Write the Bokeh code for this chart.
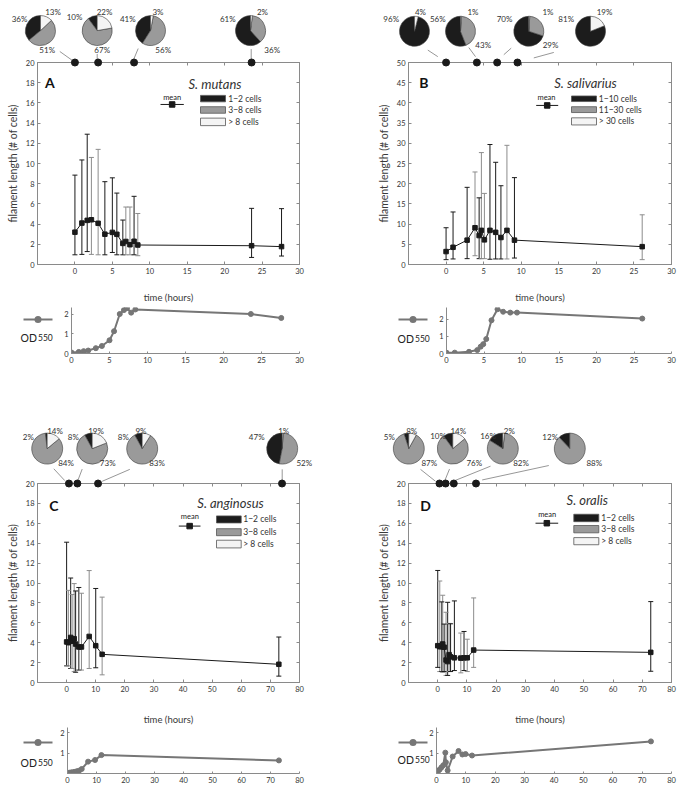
import numpy as np
from bokeh.plotting import figure
from bokeh.models import LinearAxis, FixedTicker, Range1d
from bokeh.core.properties import value
from bokeh.layouts import column, row
from bokeh.embed import file_html
from bokeh.resources import INLINE

FONT = "Lato"
INK = "#333333"
AX = "#8a8a8a"
DARK = "#1a1a1a"
GRAY = "#8c8c8c"
PIE_COLORS = ["#1c1c1c", "#9a9a9a", "#f4f4f4"]
OD_COLOR = "#767676"

# ---------------- data ----------------
# Panel A  (S. mutans)
a_t = [0, 0.93, 1.64, 2.2, 3.1, 4.0, 5.0, 5.6, 6.4, 6.8, 7.35, 7.9, 8.4, 23.6, 27.6]
a_mean = [3.2, 4.1, 4.37, 4.43, 4.08, 3.0, 3.18, 2.99, 2.09, 2.28, 1.96, 2.3, 1.93, 1.86, 1.77]
a_hi = [8.85, 10.35, 12.9, 10.6, 11.4, 8.2, 8.58, 7.07, 4.4, 5.69, 5.69, 6.75, 5.05, 5.56, 5.53]
a_lo = [0.96, 1.0, 1.28, 1.0, 0.96, 0.96, 1.19, 0.96, 0.96, 0.96, 0.96, 0.96, 0.87, 0.7, 0.84]
a_shade = "kkkggkkkkggkgkk"
a_od_t = [0, 0.96, 1.6, 2.2, 3.2, 4.0, 5.0, 5.6, 6.35, 6.9, 7.3, 7.85, 8.4, 23.6, 27.6]
a_od = [0.05, 0.08, 0.12, 0.15, 0.27, 0.38, 0.67, 1.13, 2.0, 2.2, 2.3, 2.07, 2.23, 2.0, 1.8]
a_pie_t = [0, 3.1, 7.9, 23.6]
a_pie = [(36, 51, 13), (10, 67, 22), (41, 56, 3), (61, 36, 2)]

# Panel B  (S. salivarius)
b_t = [0, 0.93, 2.8, 3.85, 4.4, 4.7, 5.1, 5.84, 6.6, 7.3, 8.1, 9.1, 26.1]
b_mean = [3.2, 4.26, 6.03, 9.1, 7.16, 8.45, 6.1, 8.45, 7.96, 6.68, 8.45, 6.03, 4.42]
b_hi = [9.1, 13.0, 19.1, 22.9, 16.5, 27.7, 17.6, 29.7, 25.3, 19.5, 29.5, 21.5, 12.3]
b_lo = [1.2, 1.37, 1.45, 2.17, 1.45, 1.45, 1.45, 1.3, 1.37, 1.37, 1.37, 1.6, 1.2]
b_shade = "kkkgkggkkkgkg"
b_od_t = [0, 1.1, 3.0, 4.1, 4.55, 4.9, 5.3, 6.0, 6.8, 7.55, 8.5, 9.4, 26.1]
b_od = [0.05, 0.05, 0.1, 0.2, 0.4, 0.55, 0.85, 1.95, 2.6, 2.45, 2.4, 2.4, 2.05]
b_pie_t = [0, 4.1, 6.8, 9.5]
b_pie = [(96, 0, 4), (56, 43, 1), (70, 29, 1), (81, 0, 19)]

# Panel C  (S. anginosus)
c_t = [0, 0.6, 1.4, 1.9, 2.6, 3.1, 4.2, 5.1, 7.75, 10.0, 12.2, 72.9]
c_mean = [4.08, 4.0, 4.53, 4.15, 4.4, 3.86, 3.57, 3.57, 4.63, 3.7, 2.83, 1.83]
c_hi = [14.1, 9.26, 10.5, 8.84, 9.94, 9.2, 9.55, 8.97, 11.25, 9.45, 8.58, 4.57]
c_lo = [1.67, 1.67, 1.41, 1.41, 1.09, 1.03, 1.25, 1.25, 1.41, 1.48, 0.77, 0.64]
c_shade = "kgkggkkggkgk"
c_od_t = [0, 0.6, 1.4, 2.3, 3.2, 4.0, 4.9, 7.1, 9.5, 11.7, 72.9]
c_od = [0.02, 0.04, 0.06, 0.08, 0.11, 0.14, 0.22, 0.58, 0.66, 0.9, 0.64]
c_pie_t = [0.8, 3.7, 10.8, 74]
c_pie = [(2, 84, 14), (8, 73, 19), (8, 83, 9), (47, 52, 1)]

# Panel D  (S. oralis)
d_t = [0, 0.7, 1.4, 1.7, 2.2, 2.85, 3.4, 3.9, 4.4, 5.7, 7.9, 9.0, 10.1, 12.3, 72.9]
d_mean = [3.7, 3.6, 3.6, 3.87, 3.55, 2.26, 2.1, 2.8, 2.58, 2.48, 2.45, 2.48, 2.48, 3.26, 3.03]
d_hi = [11.26, 10.2, 8.1, 8.77, 5.87, 7.06, 8.06, 5.94, 5.9, 8.2, 4.97, 5.13, 4.35, 8.5, 8.13]
d_lo = [1.52, 1.1, 1.1, 1.03, 1.1, 0.71, 0.71, 1.1, 1.1, 1.2, 0.97, 1.2, 1.1, 1.52, 1.13]
d_shade = "kgkgkgkgkkgkggk"
d_od_t = [0, 0.6, 1.1, 1.7, 2.3, 3.0, 3.2, 3.8, 5.5, 7.5, 8.8, 9.9, 12.1, 73.0]
d_od = [0.05, 0.13, 0.2, 0.3, 0.4, 1.02, 0.55, 0.15, 0.83, 1.1, 0.93, 0.95, 0.88, 1.57]
d_pie_t = [0.6, 2.7, 5.5, 13.1]
d_pie = [(5, 87, 8), (10, 76, 14), (16, 82, 2), (12, 88, 0)]

x_ticks_short = [0, 5, 10, 15, 20, 25, 30]
x_ticks_long = [0, 10, 20, 30, 40, 50, 60, 70, 80]
y_ticks_20 = [0, 2, 4, 6, 8, 10, 12, 14, 16, 18, 20]
y_ticks_50 = [0, 5, 10, 15, 20, 25, 30, 35, 40, 45, 50]
legend_small = ["1\u22122 cells", "3\u22128 cells", "> 8 cells"]
legend_big = ["1\u221210 cells", "11\u221230 cells", "> 30 cells"]

# ---------------- layout (page pixel positions of decorations) ----------------
# fig = (width, height, border_left, border_right, border_top, border_bottom)
LAY = {
    "A": dict(fig=(341, 305, 37, 42, 62, 36), frame=(37, 299, 62, 269), xr=(-5, 30), yr=(0, 20),
              xt=x_ticks_short, yt=y_ticks_20, lab_st=15, letter=(49.3, 82.7), title=(214.5, 84),
              name="S. mutans", leg_text=legend_small,
              mean_txt=(171.7, 97.7), mean_line=(160, 183.3, 105), box_x=(200, 225),
              box_y=[(95.7, 102.3), (107.3, 114), (119, 126.7)], leg_tx=227.7,
              pie_c=[(40, 29.3), (96.7, 29.3), (150, 29.3), (250, 29.3)], pie_r=15,
              pie_lab=[[(19, 17), (46.7, 49.5), (52.5, 10.5)], [(74, 15.7), (101.7, 49.5), (104, 10.5)],
                       [(127.3, 17), (162.7, 49.5), (157.5, 10.5)], [(227.3, 17), (271.7, 49.5), (262, 10.5)]],
              conn=[(59.3, 50.7, 72.7, 60.5), (96.7, 53.3, 96.7, 60.5), (137.7, 47.7, 132.7, 60.0), (250.7, 48.3, 250.7, 60.5)]),
    "B": dict(fig=(342, 305, 67, 12, 62, 36), frame=(408, 671, 62, 269), xr=(-5, 30), yr=(0, 50),
              xt=x_ticks_short, yt=y_ticks_50, lab_st=15, letter=(423.3, 82.7), title=(585, 83.3),
              name="S. salivarius", leg_text=legend_big,
              mean_txt=(546, 98.3), mean_line=(535.7, 557.7, 106), box_x=(571, 596),
              box_y=[(96.3, 102), (107.3, 113.3), (118.7, 126)], leg_tx=598.3,
              pie_c=[(414, 30), (460, 30), (528.3, 30), (590, 30)], pie_r=15,
              pie_lab=[[(390.7, 17), None, (420, 10.5)], [(437.3, 17), (482.7, 44.5), (472.5, 10.5)],
                       [(504, 17), (550, 44.5), (547.5, 10.5)], [(565.7, 17), None, (604, 10.5)]],
              conn=[(427.3, 49.3, 437.3, 56), (468.3, 46.7, 475, 56), (510.7, 47.3, 503.3, 54), (553.3, 51.7, 533.3, 57.3)]),
    "C": dict(fig=(341, 327, 37, 42, 83, 37), frame=(37, 299, 483, 690), xr=(-10, 80), yr=(0, 20),
              xt=x_ticks_long, yt=y_ticks_20, lab_st=19, letter=(53.3, 506), title=(230, 503.3),
              name="S. anginosus", leg_text=legend_small,
              mean_txt=(189.3, 517.3), mean_line=(178.3, 200, 527.3), box_x=(216, 240.7),
              box_y=[(516.7, 524), (530, 537.3), (542, 550)], leg_tx=242.7,
              pie_c=[(46.7, 446.7), (91.7, 446.7), (141.7, 446.7), (281.7, 446.7)], pie_r=15.5,
              pie_lab=[[(27.8, 434.5), (65.5, 462), (54.5, 428.8)], [(72.8, 434.5), (107.2, 462), (95.5, 428.8)],
                       [(122.8, 434.5), (156.5, 462), (140.5, 428.8)], [(256.2, 434.5), (303.8, 462), (283.2, 428.8)]],
              conn=[(53.3, 467.7, 64.3, 480), (81.7, 468, 77.3, 480), (129.3, 468.3, 101.7, 480.7), (281.7, 468.3, 281.7, 480)]),
    "D": dict(fig=(342, 327, 67, 12, 83, 37), frame=(408, 671, 483, 690), xr=(-10, 80), yr=(0, 20),
              xt=x_ticks_long, yt=y_ticks_20, lab_st=19, letter=(425, 506), title=(586.7, 500),
              name="S. oralis", leg_text=legend_small,
              mean_txt=(546.7, 515.3), mean_line=(535, 557.7, 524.3), box_x=(573.3, 598.3),
              box_y=[(515, 522.7), (526.7, 534.3), (539.3, 546.7)], leg_tx=600.7,
              pie_c=[(408.3, 446.7), (452.3, 446.7), (502.3, 446.7), (569.3, 446.7)], pie_r=15.5,
              pie_lab=[[(388.8, 434.5), (428.8, 462), (411.2, 428.8)], [(437.5, 433.5), (473.8, 462), (457.8, 428.8)],
                       [(487.5, 433.5), (520.5, 462), (508.8, 428.8)], [(549.7, 434.5), (593.8, 462), None]],
              conn=[(420, 468.3, 435, 480.7), (449, 468, 444.3, 480), (490, 465, 454.3, 480), (548.3, 464.3, 481.7, 479.3)]),
}

OD_LAY = {
    "A": dict(fig=(341, 95, 71, 42, 2, 47), frame=(71, 299, 307, 353), xr=(0, 30), yr=(0, 2.33),
              xt=x_ticks_short, yt=[0, 1, 2], leg=(23, 52, 319), txt=(20, 337)),
    "B": dict(fig=(342, 95, 105, 12, 2, 47), frame=(446, 671, 307, 353), xr=(0, 30), yr=(0, 2.7),
              xt=x_ticks_short, yt=[0, 1, 2], leg=(398, 427, 319), txt=(397, 338)),
    "C": dict(fig=(341, 66, 67, 42, 0, 20), frame=(67, 299, 727, 773), xr=(0, 80), yr=(0, 2.25),
              xt=x_ticks_long, yt=[1, 2], leg=(23, 52, 742), txt=(20, 762)),
    "D": dict(fig=(342, 66, 95, 12, 0, 20), frame=(436, 671, 727, 773), xr=(0, 80), yr=(0, 2.25),
              xt=x_ticks_long, yt=[1, 2], leg=(398, 427, 742), txt=(397, 759)),
}


def to_data(L, px, py):
    fl, fr, ft, fb = L["frame"]
    x0, x1 = L["xr"]
    y0, y1 = L["yr"]
    return (x0 + (px - fl) / (fr - fl) * (x1 - x0), y0 + (fb - py) / (fb - ft) * (y1 - y0))


def style_axis(ax, ticks, size="7.5px"):
    ax.ticker = FixedTicker(ticks=ticks)
    ax.axis_line_color = AX
    ax.major_tick_line_color = AX
    ax.minor_tick_line_color = None
    ax.major_tick_in = 3
    ax.major_tick_out = 0
    ax.major_label_text_font = FONT
    ax.major_label_text_font_size = size
    ax.major_label_text_color = INK
    ax.major_label_standoff = 3
    ax.axis_label_text_font = FONT
    ax.axis_label_text_font_style = "normal"
    ax.axis_label_text_color = "#3a3a3a"


def txt(p, x, y, text, size="8px", align="center", baseline="middle", style="normal", color=INK):
    p.text(x=[x], y=[y], text=[text], text_font=value(FONT), text_font_size=value(size),
           text_color=color, text_align=align, text_baseline=baseline, text_font_style=style,
           level="overlay")


def make_main(key, t, mean, hi, lo, shade, pie_t, pies):
    L = LAY[key]
    w, h, bl, br, bt, bb = L["fig"]
    p = figure(width=w, height=h, x_range=Range1d(*L["xr"]), y_range=Range1d(*L["yr"]),
               output_backend="svg", toolbar_location=None,
               min_border_left=bl, min_border_right=br, min_border_top=bt, min_border_bottom=bb)
    p.grid.visible = False
    p.outline_line_color = AX
    style_axis(p.xaxis[0], L["xt"])
    style_axis(p.yaxis[0], L["yt"])
    p.xaxis[0].axis_label = "time (hours)"
    p.xaxis[0].axis_label_text_font_size = "9.5px"
    p.xaxis[0].axis_label_standoff = L["lab_st"]
    p.yaxis[0].axis_label = "filament length (# of cells)"
    p.yaxis[0].axis_label_text_font_size = "10.5px"
    p.yaxis[0].axis_label_standoff = 4
    top = LinearAxis()
    style_axis(top, L["xt"])
    top.major_label_overrides = {v: "" for v in L["xt"]}
    top.major_label_standoff = 0
    p.add_layout(top, "above")
    right = LinearAxis()
    style_axis(right, L["yt"])
    right.major_label_overrides = {v: "" for v in L["yt"]}
    right.major_label_standoff = 0
    p.add_layout(right, "right")

    cols = [DARK if s == "k" else GRAY for s in shade]
    p.segment(x0=t, y0=lo, x1=t, y1=hi, line_color=cols, line_width=1)
    p.scatter(x=t + t, y=hi + lo, marker="dash", size=5, line_color=cols + cols, line_width=1)
    p.line(t, mean, line_color=DARK, line_width=1)
    p.scatter(t, mean, marker="square", size=4.5, fill_color=DARK, line_color=DARK)

    # panel letter and title
    lx, ly = to_data(L, *L["letter"])
    txt(p, lx, ly, key, size="14px", style="bold", color="#111111")
    tx, ty = to_data(L, *L["title"])
    txt(p, tx, ty, L["name"], size="13px", style="italic", color="#333333")

    # legend
    mx, my = to_data(L, *L["mean_txt"])
    txt(p, mx, my, "mean", size="7.5px", color="#222222")
    x1, yl = to_data(L, L["mean_line"][0], L["mean_line"][2])
    x2, _ = to_data(L, L["mean_line"][1], L["mean_line"][2])
    p.line([x1, x2], [yl, yl], line_color=DARK, line_width=1)
    p.scatter([(x1 + x2) / 2], [yl], marker="square", size=5.5, fill_color=DARK, line_color=DARK)
    bx0, _ = to_data(L, L["box_x"][0], 0)
    bx1, _ = to_data(L, L["box_x"][1], 0)
    tx0, _ = to_data(L, L["leg_tx"], 0)
    for (ya, yb), col, lt in zip(L["box_y"], PIE_COLORS, L["leg_text"]):
        _, top_ = to_data(L, 0, ya)
        _, bot_ = to_data(L, 0, yb)
        p.quad(left=[bx0], right=[bx1], top=[top_], bottom=[bot_], fill_color=col,
               line_color="#555555", line_width=0.8)
        txt(p, tx0, (top_ + bot_) / 2, lt, size="8.5px", align="left")

    # pies above the frame
    ymax = L["yr"][1]
    for (xa, ya, xb, yb) in L["conn"]:
        u0, v0 = to_data(L, xa, ya)
        u1, v1 = to_data(L, xb, yb)
        p.line([u0, u1], [v0, v1], line_color="#6a6a6a", line_width=0.7, level="overlay")
    for (px, py), fr_ in zip(L["pie_c"], pies):
        cx, cy = to_data(L, px, py)
        tot = float(sum(fr_))
        a = np.pi / 2
        for f, col in zip(fr_, PIE_COLORS):
            if f <= 0:
                continue
            b = a + 2 * np.pi * f / tot
            p.wedge(x=[cx], y=[cy], radius=L["pie_r"], radius_units="screen", start_angle=a, end_angle=b,
                    direction="anticlock", fill_color=col, line_color="#3a3a3a", line_width=0.6,
                    level="overlay")
            a = b
    for fr_, labpos in zip(pies, L["pie_lab"]):
        for f, pos in zip(fr_, labpos):
            if pos is None:
                continue
            qx, qy = to_data(L, *pos)
            txt(p, qx, qy, "%d%%" % f, size="8px")
    p.scatter(pie_t, [ymax] * len(pie_t), size=7, fill_color=DARK, line_color=DARK, level="overlay")
    return p


def make_od(key, t, od):
    L = OD_LAY[key]
    w, h, bl, br, bt, bb = L["fig"]
    p = figure(width=w, height=h, x_range=Range1d(*L["xr"]), y_range=Range1d(*L["yr"]),
               output_backend="svg", toolbar_location=None,
               min_border_left=bl, min_border_right=br, min_border_top=bt, min_border_bottom=bb)
    p.grid.visible = False
    p.outline_line_color = None
    style_axis(p.xaxis[0], L["xt"])
    style_axis(p.yaxis[0], L["yt"])
    p.xaxis[0].major_tick_in = 2
    p.yaxis[0].major_tick_in = 2
    p.line(t, od, line_color=OD_COLOR, line_width=2)
    p.scatter(t, od, size=5, fill_color=OD_COLOR, line_color=OD_COLOR)
    # legend: line with a round marker, then the "OD550" text
    xa, yl = to_data(L, L["leg"][0], L["leg"][2])
    xb, _ = to_data(L, L["leg"][1], L["leg"][2])
    p.line([xa, xb], [yl, yl], line_color=OD_COLOR, line_width=2, level="overlay")
    for a0, a1 in [(0, np.pi), (np.pi, 2 * np.pi)]:
        p.wedge(x=[(xa + xb) / 2], y=[yl], radius=3.5, radius_units="screen", start_angle=a0, end_angle=a1,
                direction="anticlock", fill_color=OD_COLOR, line_color=None, level="overlay")
    ox, oy = to_data(L, *L["txt"])
    ox2, _ = to_data(L, L["txt"][0] + 17.5, 0)
    txt(p, ox, oy, "OD", size="10.5px", align="left", baseline="alphabetic", color="#222222")
    txt(p, ox2, oy, "550", size="8.5px", align="left", baseline="alphabetic", color="#222222")
    return p


pA = make_main("A", a_t, a_mean, a_hi, a_lo, a_shade, a_pie_t, a_pie)
pB = make_main("B", b_t, b_mean, b_hi, b_lo, b_shade, b_pie_t, b_pie)
pC = make_main("C", c_t, c_mean, c_hi, c_lo, c_shade, c_pie_t, c_pie)
pD = make_main("D", d_t, d_mean, d_hi, d_lo, d_shade, d_pie_t, d_pie)
oA = make_od("A", a_od_t, a_od)
oB = make_od("B", b_od_t, b_od)
oC = make_od("C", c_od_t, c_od)
oD = make_od("D", d_od_t, d_od)

layout = column(row(pA, pB), row(oA, oB), row(pC, pD), row(oC, oD))
open("out.html", "w").write(file_html(layout, INLINE))
